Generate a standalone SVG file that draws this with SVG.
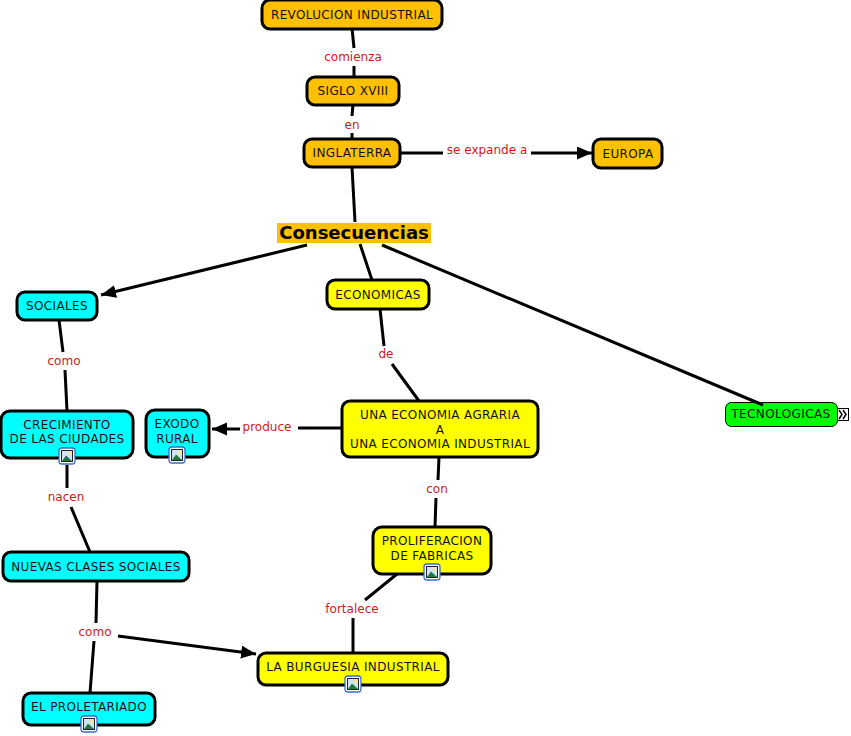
<svg xmlns="http://www.w3.org/2000/svg" width="851" height="736" viewBox="0 0 851 736">
<style>
text{font-family:"DejaVu Sans",Verdana,sans-serif;font-size:12px;text-anchor:middle;fill:#111;letter-spacing:.35px}
.n{stroke:#000;stroke-width:3}
.o{fill:#ffc000}.y{fill:#ffff00}.c{fill:#00ffff}
text.l{fill:#d01818;letter-spacing:0}
#connectors line{stroke:#000;stroke-width:3;fill:none}
</style>
<defs>
<marker id="a" markerUnits="userSpaceOnUse" markerWidth="18" markerHeight="14" refX="15" refY="6.500" orient="auto"><path d="M0 0L15 6.500L0 13Z" fill="#000"/></marker>
<g id="ic">
<rect x="-8" y="-8" width="16" height="16" rx="3" fill="#fff" stroke="#3a6cc0" stroke-width="1.300"/>
<rect x="-5.500" y="-5.500" width="11" height="11" fill="#cfe4f5" stroke="#223" stroke-width="1"/>
<circle cx="2.500" cy="-2.500" r="2" fill="#f2e7a0"/>
<path d="M-5 5L-1 -.5L5 5Z" fill="#1f7a3a"/>
</g>
</defs>
<rect width="851" height="736" fill="#fff"/>
<g id="n8"><rect x="725.500" y="402.500" width="112" height="24" rx="6" fill="#00ff00" stroke="#000" stroke-width="1"/><text x="781" y="418" style="letter-spacing:.4px">TECNOLOGICAS</text>
<rect x="837.500" y="408.500" width="11" height="12" fill="#fff" stroke="#000" stroke-width="1"/><path d="M839 410L842 414.500L839 419M843 410L846 414.500L843 419" fill="none" stroke="#000" stroke-width="1.500"/></g>
<g id="connectors">
<line x1="352" y1="28" x2="354" y2="48"/><line x1="354" y1="66" x2="354" y2="77"/>
<line x1="353" y1="104" x2="352" y2="116"/><line x1="352" y1="133" x2="352" y2="139"/>
<line x1="400" y1="153" x2="443" y2="153"/><line x1="531" y1="153" x2="592" y2="153" marker-end="url(#a)"/>
<line x1="352" y1="167" x2="355" y2="222"/>
<line x1="307" y1="245" x2="101" y2="295" marker-end="url(#a)"/>
<line x1="360" y1="244" x2="372" y2="280"/>
<line x1="382" y1="245" x2="763" y2="405"/>
<line x1="380" y1="309" x2="384" y2="346"/><line x1="392" y1="364" x2="419" y2="401"/>
<line x1="59" y1="320" x2="63" y2="352"/><line x1="65" y1="370" x2="67" y2="411"/>
<line x1="341" y1="428" x2="298" y2="428"/><line x1="240" y1="429" x2="212" y2="429" marker-end="url(#a)"/>
<line x1="439" y1="457" x2="438" y2="480"/><line x1="436" y1="498" x2="435" y2="527"/>
<line x1="67" y1="465" x2="67" y2="488"/><line x1="71" y1="507" x2="90" y2="552"/>
<line x1="397" y1="574" x2="365" y2="600"/><line x1="353" y1="618" x2="353" y2="653"/>
<line x1="97" y1="581" x2="96" y2="623"/><line x1="94" y1="641" x2="90" y2="693"/>
<line x1="118" y1="636" x2="256" y2="654" marker-end="url(#a)"/>
</g>
<g id="labels">
<text class="l" x="353" y="61">comienza</text>
<text class="l" x="352" y="129">en</text>
<text class="l" x="487" y="154">se expande a</text>
<text class="l" x="386" y="358">de</text>
<text class="l" x="64" y="365">como</text>
<text class="l" x="267" y="431">produce</text>
<text class="l" x="437" y="493">con</text>
<text class="l" x="66" y="501">nacen</text>
<text class="l" x="352" y="613">fortalece</text>
<text class="l" x="95" y="636">como</text>
</g>
<g id="n1"><rect class="n o" x="262" y="0" width="180" height="29" rx="8"/><text x="352" y="19">REVOLUCION INDUSTRIAL</text></g>
<g id="n2"><rect class="n o" x="307" y="77" width="92" height="28" rx="8"/><text x="353" y="95">SIGLO XVIII</text></g>
<g id="n3"><rect class="n o" x="304" y="139" width="96" height="28" rx="8"/><text x="352" y="157">INGLATERRA</text></g>
<g id="n4"><rect class="n o" x="593" y="139" width="69" height="29" rx="8"/><text x="628" y="158">EUROPA</text></g>
<g id="n5"><rect class="o" x="277" y="223" width="154" height="20"/><text x="354" y="239" style="font-size:18px;font-weight:bold;fill:#000;letter-spacing:0">Consecuencias</text></g>
<g id="n6"><rect class="n c" x="17" y="292" width="80" height="28" rx="8"/><text x="57" y="310">SOCIALES</text></g>
<g id="n7"><rect class="n y" x="327" y="280" width="102" height="29" rx="8"/><text x="378" y="299">ECONOMICAS</text></g>
<g id="n9"><rect class="n c" x="1" y="411" width="132" height="47" rx="9"/><text x="67" y="429">CRECIMIENTO</text><text x="67" y="443">DE LAS CIUDADES</text><use href="#ic" x="67" y="456"/></g>
<g id="n10"><rect class="n c" x="146" y="410" width="63" height="47" rx="9"/><text x="177" y="428">EXODO</text><text x="177" y="443">RURAL</text><use href="#ic" x="177" y="455"/></g>
<g id="n11"><rect class="n y" x="342" y="401" width="196" height="56" rx="8"/><text x="440" y="419">UNA ECONOMIA AGRARIA</text><text x="440" y="434">A</text><text x="440" y="448">UNA ECONOMIA INDUSTRIAL</text></g>
<g id="n12"><rect class="n y" x="373" y="527" width="118" height="47" rx="9"/><text x="432" y="545">PROLIFERACION</text><text x="432" y="560">DE FABRICAS</text><use href="#ic" x="432" y="572"/></g>
<g id="n13"><rect class="n c" x="3" y="552" width="186" height="29" rx="8"/><text x="96" y="571">NUEVAS CLASES SOCIALES</text></g>
<g id="n14"><rect class="n y" x="258" y="653" width="190" height="32" rx="8"/><text x="353" y="671">LA BURGUESIA INDUSTRIAL</text><use href="#ic" x="353" y="684"/></g>
<g id="n15"><rect class="n c" x="23" y="693" width="132" height="32" rx="8"/><text x="89" y="711">EL PROLETARIADO</text><use href="#ic" x="89" y="724"/></g>
</svg>
